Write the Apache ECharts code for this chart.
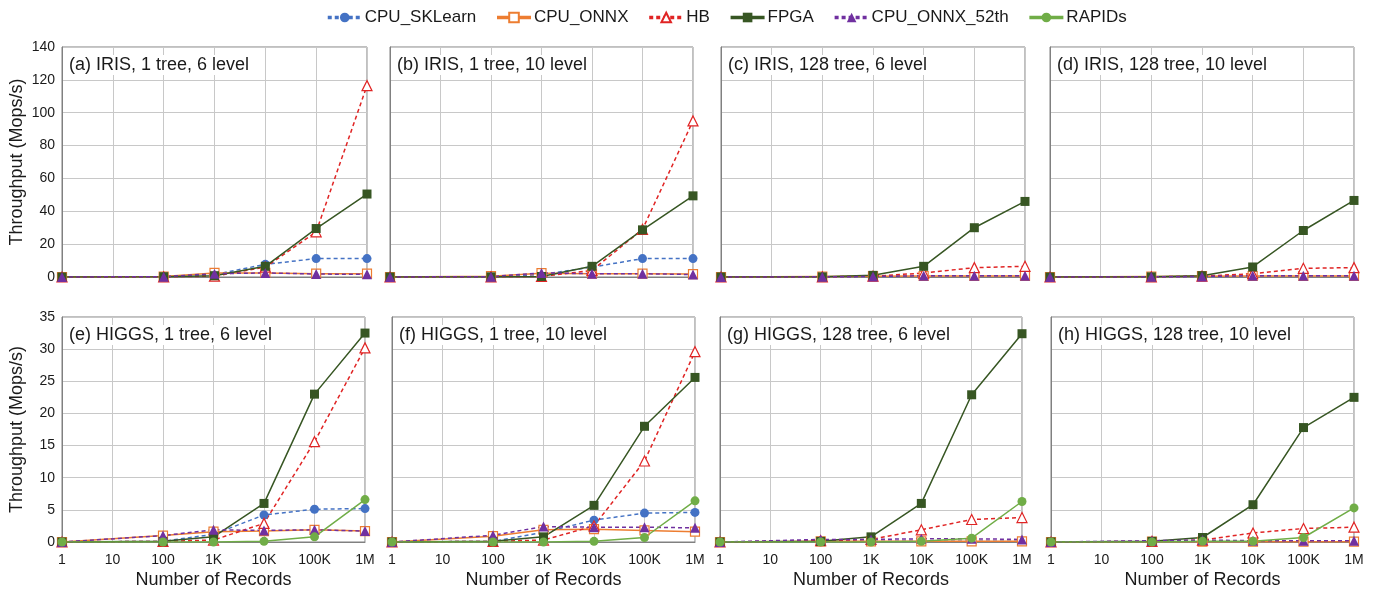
<!DOCTYPE html>
<html>
<head>
<meta charset="utf-8">
<script src="https://cdn.jsdelivr.net/npm/echarts@6/dist/echarts.min.js"></script>
<style>
html,body{margin:0;padding:0;background:#fff;}
#chart{width:1385px;height:597px;}
</style>
</head>
<body>
<div id="chart"></div>
<script>
// ---------- DATA ----------
const categories = ['1', '10', '100', '1K', '10K', '100K', '1M'];
const panelTitles = [
  '(a) IRIS, 1 tree, 6 level', '(b) IRIS, 1 tree, 10 level',
  '(c) IRIS, 128 tree, 6 level', '(d) IRIS, 128 tree, 10 level',
  '(e) HIGGS, 1 tree, 6 level', '(f) HIGGS, 1 tree, 10 level',
  '(g) HIGGS, 128 tree, 6 level', '(h) HIGGS, 128 tree, 10 level'
];
const seriesNames = ['CPU_SKLearn', 'CPU_ONNX', 'HB', 'FPGA', 'CPU_ONNX_52th', 'RAPIDs'];
const yTopMax = 140, yTopStep = 20;
const yBottomMax = 35, yBottomStep = 5;

// one row per panel (a..h), one value per category (no measurement at '10')
const cpuSKLearn = [
  [0, null, 0.2, 1.5, 7.7, 11.2, 11.2],
  [0, null, 0.2, 1.5, 6.0, 11.2, 11.2],
  [0, null, 0.1, 0.3, 0.5, 0.5, 0.5],
  [0, null, 0.1, 0.3, 0.5, 0.5, 0.5],
  [0, null, 0.1, 1.2, 4.2, 5.1, 5.2],
  [0, null, 0.1, 1.5, 3.4, 4.5, 4.6],
  [0, null, 0.05, 0.1, 0.1, 0.1, 0.1],
  [0, null, 0.05, 0.1, 0.1, 0.1, 0.1]
];
const cpuONNX = [
  [0, null, 0.3, 2.5, 2.5, 2.0, 2.0],
  [0, null, 0.5, 2.3, 2.0, 2.0, 1.8],
  [0, null, 0.3, 0.5, 0.6, 0.6, 0.6],
  [0, null, 0.3, 0.5, 0.6, 0.6, 0.6],
  [0, null, 1.0, 1.6, 1.7, 1.9, 1.7],
  [0, null, 0.9, 1.9, 2.0, 1.8, 1.6],
  [0, null, 0.1, 0.1, 0.1, 0.1, 0.1],
  [0, null, 0.05, 0.05, 0.05, 0.05, 0.05]
];
const hb = [
  [0, null, 0.1, 0.5, 6.0, 27.5, 116.5],
  [0, null, 0.1, 0.3, 4.0, 29.0, 95.0],
  [0, null, 0.1, 0.5, 2.4, 5.7, 6.5],
  [0, null, 0.1, 0.5, 2.0, 5.3, 5.7],
  [0, null, 0.1, 0.3, 2.9, 15.6, 30.2],
  [0, null, 0.1, 0.3, 2.5, 12.6, 29.6],
  [0, null, 0.2, 0.4, 1.9, 3.5, 3.8],
  [0, null, 0.1, 0.3, 1.4, 2.1, 2.3]
];
const fpga = [
  [0, null, 0.2, 0.8, 6.5, 29.5, 50.5],
  [0, null, 0.1, 0.3, 6.5, 28.7, 49.4],
  [0, null, 0.1, 1.0, 6.5, 30.0, 46.0],
  [0, null, 0.1, 0.8, 6.1, 28.3, 46.6],
  [0, null, 0.1, 0.8, 6.0, 23.0, 32.5],
  [0, null, 0.1, 0.8, 5.7, 18.0, 25.6],
  [0, null, 0.1, 0.8, 6.0, 22.9, 32.4],
  [0, null, 0.1, 0.7, 5.8, 17.8, 22.5]
];
const cpuONNX52 = [
  [0, null, 0.2, 2.0, 2.5, 1.8, 1.6],
  [0, null, 0.2, 2.5, 2.0, 2.0, 1.5],
  [0, null, 0.1, 0.3, 0.8, 0.8, 0.8],
  [0, null, 0.1, 0.3, 0.8, 0.8, 0.8],
  [0, null, 1.0, 1.9, 1.8, 1.9, 1.7],
  [0, null, 1.05, 2.4, 2.3, 2.3, 2.2],
  [0, null, 0.4, 0.4, 0.5, 0.5, 0.4],
  [0, null, 0.2, 0.3, 0.2, 0.2, 0.2]
];
const rapids = [
  null, null, null, null,
  [0, null, 0, 0, 0.1, 0.8, 6.6],
  [0, null, 0, 0, 0.1, 0.7, 6.4],
  [0, null, 0, 0, 0.1, 0.6, 6.3],
  [0, null, 0, 0.1, 0.1, 0.7, 5.3]
];
const seriesData = [cpuSKLearn, cpuONNX, hb, fpga, cpuONNX52, rapids];

// ---------- STYLE / LAYOUT ----------
const FONT = 'Liberation Sans, Arial, Helvetica, sans-serif';
const TXT = '#1a1a1a';
const styles = [
  {color: '#4472C4', dash: true,  symbol: 'circle',   hollow: false},
  {color: '#ED7D31', dash: false, symbol: 'rect',     hollow: true},
  {color: '#E02424', dash: true,  symbol: 'triangle', hollow: true},
  {color: '#375623', dash: false, symbol: 'rect',     hollow: false},
  {color: '#7030A0', dash: true,  symbol: 'triangle', hollow: false},
  {color: '#70AD47', dash: false, symbol: 'circle',   hollow: false}
];
const grids = [
  {left: 62,   top: 47,  width: 305, height: 230},
  {left: 390,  top: 47,  width: 303, height: 230},
  {left: 721,  top: 47,  width: 304, height: 230},
  {left: 1050, top: 47,  width: 304, height: 230},
  {left: 62,   top: 317, width: 303, height: 225},
  {left: 392,  top: 317, width: 303, height: 225},
  {left: 720,  top: 317, width: 302, height: 225},
  {left: 1051, top: 317, width: 303, height: 225}
];

const option = {
  animation: false,
  backgroundColor: '#fff',
  textStyle: {fontFamily: FONT},
  legend: {
    top: 4, left: 321,
    itemWidth: 34, itemHeight: 12, itemGap: 19,
    lineStyle: {width: 3.5},
    textStyle: {fontFamily: FONT, fontSize: 17, color: TXT, padding: [0, 0, 0, -2]},
    data: seriesNames
  },
  title: [],
  grid: [],
  xAxis: [],
  yAxis: [],
  series: []
};

grids.forEach((g, i) => {
  const top = i < 4;
  const first = i % 4 === 0;
  option.grid.push(Object.assign({show: true, borderColor: '#808080', borderWidth: 1, backgroundColor: 'transparent'}, g));
  option.title.push({
    text: panelTitles[i],
    left: g.left + 4, top: g.top + 8,
    padding: [1, 3],
    backgroundColor: '#fff',
    textStyle: {fontFamily: FONT, fontSize: 18, fontWeight: 'normal', color: TXT}
  });
  option.xAxis.push({
    type: 'category', gridIndex: i, data: categories, boundaryGap: false,
    axisLine: {show: true, lineStyle: {color: '#808080'}},
    axisTick: {show: false},
    axisLabel: {show: !top, fontSize: 14, color: TXT, margin: 11, fontFamily: FONT},
    splitLine: {show: true, lineStyle: {color: '#c8c8c8', width: 1}},
    name: top ? '' : 'Number of Records',
    nameLocation: 'middle', nameGap: 29,
    nameTextStyle: {fontSize: 18, color: TXT, fontFamily: FONT}
  });
  option.yAxis.push({
    type: 'value', gridIndex: i, min: 0,
    max: top ? yTopMax : yBottomMax,
    interval: top ? yTopStep : yBottomStep,
    axisLine: {show: true, lineStyle: {color: '#808080'}},
    axisTick: {show: false},
    axisLabel: {show: first, fontSize: 14, color: TXT, margin: 7, fontFamily: FONT},
    splitLine: {show: true, lineStyle: {color: '#c8c8c8', width: 1}},
    name: first ? 'Throughput (Mops/s)' : '',
    nameLocation: 'middle', nameGap: 36, nameRotate: 90,
    nameTextStyle: {fontSize: 18, color: TXT, fontFamily: FONT}
  });
  seriesNames.forEach((name, s) => {
    const d = seriesData[s][i];
    if (!d) return;
    const st = styles[s];
    option.series.push({
      name: name, type: 'line', xAxisIndex: i, yAxisIndex: i,
      data: d, connectNulls: true,
      symbol: st.symbol, symbolSize: st.symbol === 'triangle' ? 10 : 9,
      showAllSymbol: true,
      lineStyle: {color: st.color, width: 1.5, type: st.dash ? [4, 3] : 'solid'},
      itemStyle: {
        color: st.hollow ? '#ffffff' : st.color,
        borderColor: st.color, borderWidth: st.hollow ? 1.2 : 0
      }
    });
  });
});

const chart = echarts.init(document.getElementById('chart'), null, {renderer: 'canvas'});
chart.setOption(option);
</script>
</body>
</html>
